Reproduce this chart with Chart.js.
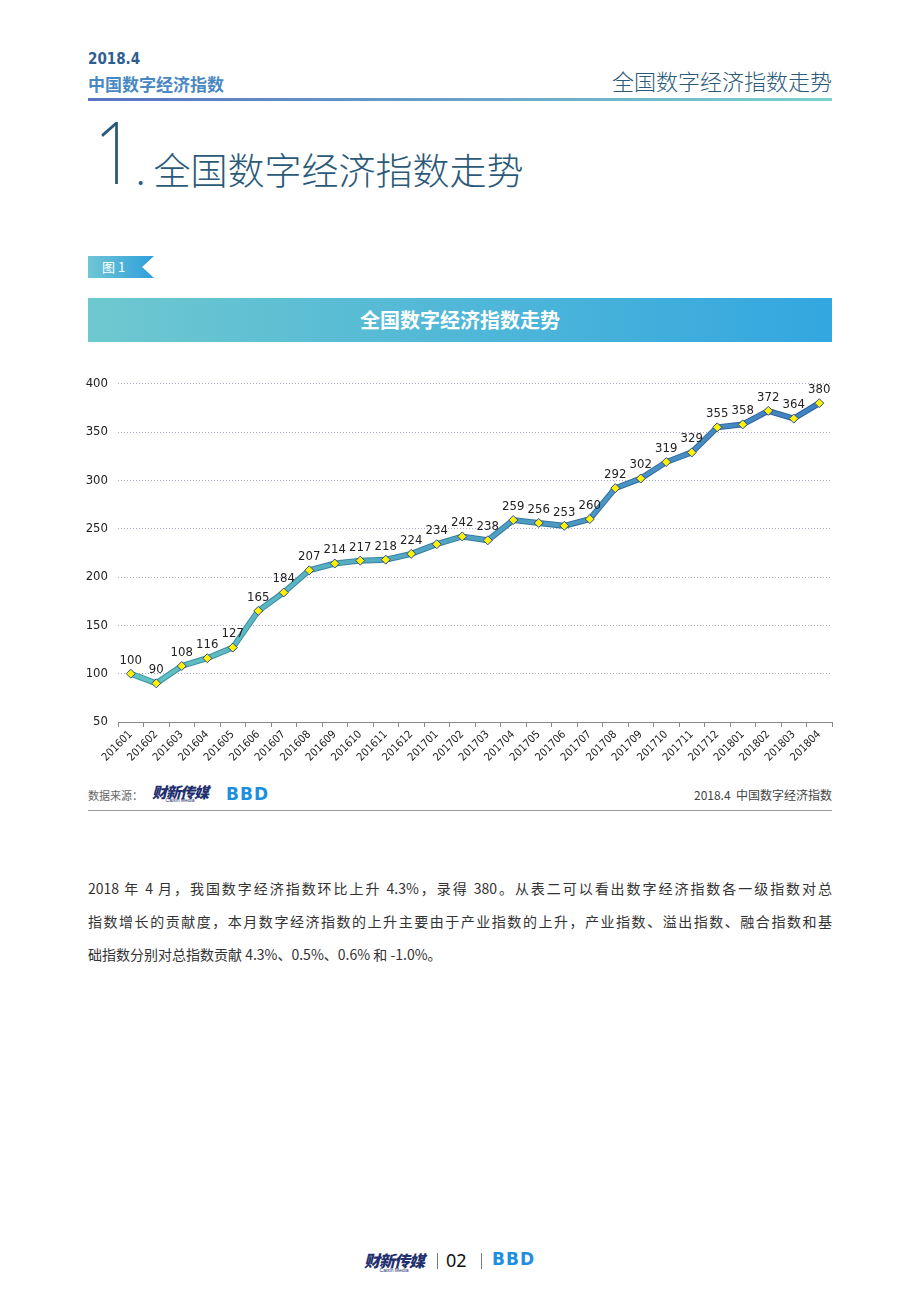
<!DOCTYPE html>
<html>
<head>
<meta charset="utf-8">
<script src="https://cdn.jsdelivr.net/npm/chart.js@4.4.1/dist/chart.umd.min.js"></script>
<style>
  body { margin: 0; background: #fff; width: 920px; height: 1302px; position: relative; overflow: hidden;
         font-family: "Noto Sans CJK SC", "Noto Sans", sans-serif; }
  .abs { position: absolute; }
  #hdrYear { left: 88px; top: 50px; font: bold 15px "Liberation Sans Narrow", "DejaVu Sans Condensed", sans-serif; color: #2f5f8f; }
  #hdrName { left: 88px; top: 71px; font-weight: bold; font-size: 17px; color: #4a88c4; }
  #hdrRight { right: 88px; top: 64px; font-size: 22px; font-weight: 300; color: #2b5a78; }
  #hdrLine { left: 88px; top: 98px; width: 744px; height: 3px; background: linear-gradient(90deg, #5a72c2, #79d2cf); }
  #bigOne { left: 94px; top: 108px; font-family: "Noto Sans", sans-serif; font-weight: 200; font-size: 86px; color: #2b5a78; line-height: 1; transform: scaleX(0.85); transform-origin: left; }
  #bigTitle { left: 136px; top: 142px; font-size: 37px; font-weight: 300; color: #2b5a78; }
  #tag { left: 88px; top: 256px; width: 66px; height: 22px;
         background: linear-gradient(90deg, #6ec6d4, #2f9fdc);
         clip-path: polygon(0 0, 100% 0, 82% 50%, 100% 100%, 0 100%); }
  #tagText { left: 102px; top: 257px; font-size: 13px; color: #fff; }
  #banner { left: 88px; top: 298px; width: 744px; height: 44px;
            background: linear-gradient(90deg, #6ec8cf, #33a7e0); color: #fff;
            font-weight: bold; font-size: 20px; text-align: center; line-height: 44px; }
  #chartBox { left: 80px; top: 366px; width: 760px; height: 404px; }
  #srcLabel { left: 88px; top: 787px; font-size: 11px; color: #666; }
  .logoCx { font-weight: 900; font-style: italic; color: #23306e; font-size: 15px; letter-spacing: -1px; }
  .logoSub { font-family: "Liberation Sans", sans-serif; font-size: 5px; color: #23306e; text-align: center; }
  .logoBBD { font-family: "DejaVu Sans", sans-serif; font-weight: bold; color: #1e8fe0; font-size: 17px; letter-spacing: 1px; }
  #srcRight { right: 88px; top: 786px; font-size: 12px; color: #444; }
  #srcLine { left: 88px; top: 810px; width: 744px; height: 0; border-top: 1px solid #9a9a9a; }
  #para { left: 88px; top: 872px; width: 744px; font-size: 14px; color: #333; line-height: 33px; }
  #para div { text-align: justify; text-align-last: justify; }
  #para div.last { text-align-last: left; }
  #foot02 { left: 446px; top: 1248px; font-family: "Noto Sans", sans-serif; font-size: 18px; color: #111; }
  .sep { width: 1px; height: 16px; background: #777; }
</style>
</head>
<body>
<div class="abs" id="hdrYear">2018.4</div>
<div class="abs" id="hdrName">中国数字经济指数</div>
<div class="abs" id="hdrRight">全国数字经济指数走势</div>
<div class="abs" id="hdrLine"></div>
<div class="abs" id="bigOne">1</div>
<div class="abs" id="bigTitle">. 全国数字经济指数走势</div>
<div class="abs" id="tag"></div>
<div class="abs" id="tagText">图 1</div>
<div class="abs" id="banner">全国数字经济指数走势</div>
<div class="abs" id="chartBox"><canvas id="chart" width="760" height="404"></canvas></div>

<div class="abs" id="srcLabel">数据来源：</div>
<div class="abs" style="left:152px;top:781px;"><div class="logoCx">财新传媒</div><div class="logoSub" style="margin-top:-5px">Caixin Media</div></div>
<div class="abs logoBBD" style="left:226px;top:784px;">BBD</div>
<div class="abs" id="srcRight">2018.4&nbsp; 中国数字经济指数</div>
<div class="abs" id="srcLine"></div>

<div class="abs" id="para">
  <div>2018 年 4 月，我国数字经济指数环比上升 4.3%，录得 380。从表二可以看出数字经济指数各一级指数对总</div>
  <div>指数增长的贡献度，本月数字经济指数的上升主要由于产业指数的上升，产业指数、溢出指数、融合指数和基</div>
  <div class="last">础指数分别对总指数贡献 4.3%、0.5%、0.6% 和 -1.0%。</div>
</div>

<div class="abs" style="left:364px;top:1248px;"><div class="logoCx" style="font-size:16px">财新传媒</div><div class="logoSub" style="margin-top:-5px">Caixin Media</div></div>
<div class="abs sep" style="left:437px;top:1253px;"></div>
<div class="abs" id="foot02">02</div>
<div class="abs sep" style="left:481px;top:1253px;"></div>
<div class="abs logoBBD" style="left:492px;top:1249px;">BBD</div>

<script>
const months = ['201601','201602','201603','201604','201605','201606','201607','201608','201609','201610',
  '201611','201612','201701','201702','201703','201704','201705','201706','201707','201708','201709',
  '201710','201711','201712','201801','201802','201803','201804'];
const indexValues = [100, 90, 108, 116, 127, 165, 184, 207, 214, 217, 218, 224, 234, 242, 238,
  259, 256, 253, 260, 292, 302, 319, 329, 355, 358, 372, 364, 380];
const yTicks = [50, 100, 150, 200, 250, 300, 350, 400];

const narrow = '"Liberation Sans Narrow", "DejaVu Sans Condensed", sans-serif';

function lineGradient(context, from, to) {
  const chart = context.chart;
  const area = chart.chartArea;
  if (!area) return to;
  const g = chart.ctx.createLinearGradient(area.left, 0, area.right, 0);
  g.addColorStop(0, from);
  g.addColorStop(1, to);
  return g;
}

// draws the value above each point
const valueLabels = {
  id: 'valueLabels',
  afterDatasetsDraw(chart) {
    const ctx = chart.ctx;
    const meta = chart.getDatasetMeta(1);
    ctx.save();
    ctx.font = '13px ' + narrow;
    ctx.fillStyle = '#222';
    ctx.textAlign = 'center';
    ctx.textBaseline = 'bottom';
    meta.data.forEach((pt, i) => {
      ctx.fillText(String(indexValues[i]), pt.x, pt.y - 7);
    });
    ctx.restore();
  }
};

const ctx = document.getElementById('chart').getContext('2d');
new Chart(ctx, {
  type: 'line',
  data: {
    labels: months,
    datasets: [{
      // darker edge under the line
      data: indexValues,
      order: 2,
      borderColor: c => lineGradient(c, '#3d98a3', '#2a5c9c'),
      borderWidth: 6,
      pointRadius: 0,
      tension: 0
    }, {
      data: indexValues,
      order: 1,
      borderColor: c => lineGradient(c, '#62c4c3', '#3f7fc2'),
      borderWidth: 4,
      pointStyle: 'rectRot',
      pointRadius: 4.5,
      pointBackgroundColor: '#fff200',
      pointBorderColor: '#2c4a9c',
      pointBorderWidth: 1,
      tension: 0
    }]
  },
  options: {
    responsive: false,
    animation: false,
    layout: { padding: { top: 8, right: 8, left: 0, bottom: 0 } },
    plugins: { legend: { display: false }, tooltip: { enabled: false } },
    scales: {
      x: {
        offset: true,
        grid: { offset: true, drawOnChartArea: false, color: '#888', tickLength: 5 },
        border: { color: '#888', width: 1 },
        ticks: {
          maxRotation: 45, minRotation: 45, autoSkip: false, padding: 1,
          color: '#222', font: { size: 11, family: narrow }
        },
        afterFit(axis) { axis.height = 48; }
      },
      y: {
        min: 50, max: 400,
        afterBuildTicks(axis) { axis.ticks = yTicks.map(v => ({ value: v })); },
        grid: { color: '#a7a9c8', lineWidth: 1, drawTicks: false },
        border: { display: false, dash: [1, 2] },
        ticks: {
          padding: 10, color: '#222',
          font: { size: 13, family: narrow }
        },
        afterFit(axis) { axis.width = 38; }
      }
    }
  },
  plugins: [valueLabels]
});
</script>
</body>
</html>
